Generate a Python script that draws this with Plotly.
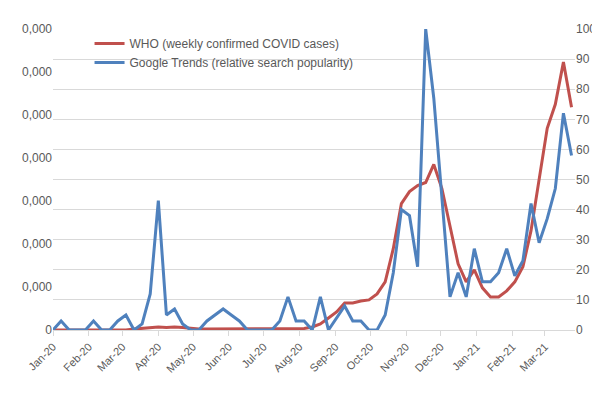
import plotly.graph_objects as go
import pandas as pd

dates = pd.date_range("2020-01-01", periods=65, freq="7D")
google = [0,3,0,0,0,3,0,0,3,5,0,2,12,43,5,7,2,0,0,3,5,7,5,3,0,0,0,0,3,11,3,3,0,11,0,4,8,3,3,0,0,5,19,40,38,21,100,77,44,11,19,11,27,16,16,19,27,18,23,42,29,37,47,72,58]
who_rel = [0,0,0,0,0,0,0,0,0,0,0.3,0.5,0.6,1,0.8,1,0.8,0.5,0.3,0.3,0.3,0.3,0.3,0.3,0.3,0.3,0.3,0.3,0.3,0.3,0.3,0.5,1,2,4,6,9,9,9.6,10,12,16,27,42,46,48,49,55,47,35,22,16,20,14,11,11,13,16,21,33,50,67,75,89,74]
who = [v * 7000 for v in who_rel]
left_ticks = [0, 100000, 200000, 300000, 400000, 500000, 600000, 700000]
left_text = ["0"] + ["0,000"] * 7
right_ticks = list(range(0, 101, 10))

fig = go.Figure()
fig.add_trace(go.Scatter(x=dates, y=who, name="WHO (weekly confirmed COVID cases)",
                         line=dict(color="#c0504d", width=3), mode="lines"))
fig.add_trace(go.Scatter(x=dates, y=google, name="Google Trends (relative search popularity)",
                         line=dict(color="#4f81bd", width=3), mode="lines", yaxis="y2"))
gray = "#595959"
fig.update_layout(
    width=600, height=400, paper_bgcolor="white", plot_bgcolor="white",
    margin=dict(l=45, r=22, t=21, b=78),
    font=dict(family="Liberation Sans, Arial", size=12, color=gray),
    showlegend=True,
    legend=dict(x=0.07, y=1.0, xanchor="left", yanchor="top", bgcolor="rgba(0,0,0,0)",
                font=dict(size=12, color=gray)),
    xaxis=dict(range=[dates[0], dates[-1] + pd.Timedelta(days=3)], tickformat="%b-%y", dtick="M1",
               tick0="2020-01-01", tickangle=-45, showgrid=False, showline=True,
               linecolor="#d9d9d9", ticks="outside", tickcolor="#d9d9d9", ticklen=5,
               tickfont=dict(size=11, color=gray)),
    yaxis=dict(range=[0, 700000], tickvals=left_ticks, ticktext=left_text, showgrid=False,
               zeroline=False, tickfont=dict(size=12, color=gray)),
    yaxis2=dict(range=[0, 100], tickvals=right_ticks, overlaying="y", side="right",
                showgrid=True, gridcolor="#d9d9d9", zeroline=False, tickfont=dict(size=12, color=gray)),
)
fig.write_html("out.html")
